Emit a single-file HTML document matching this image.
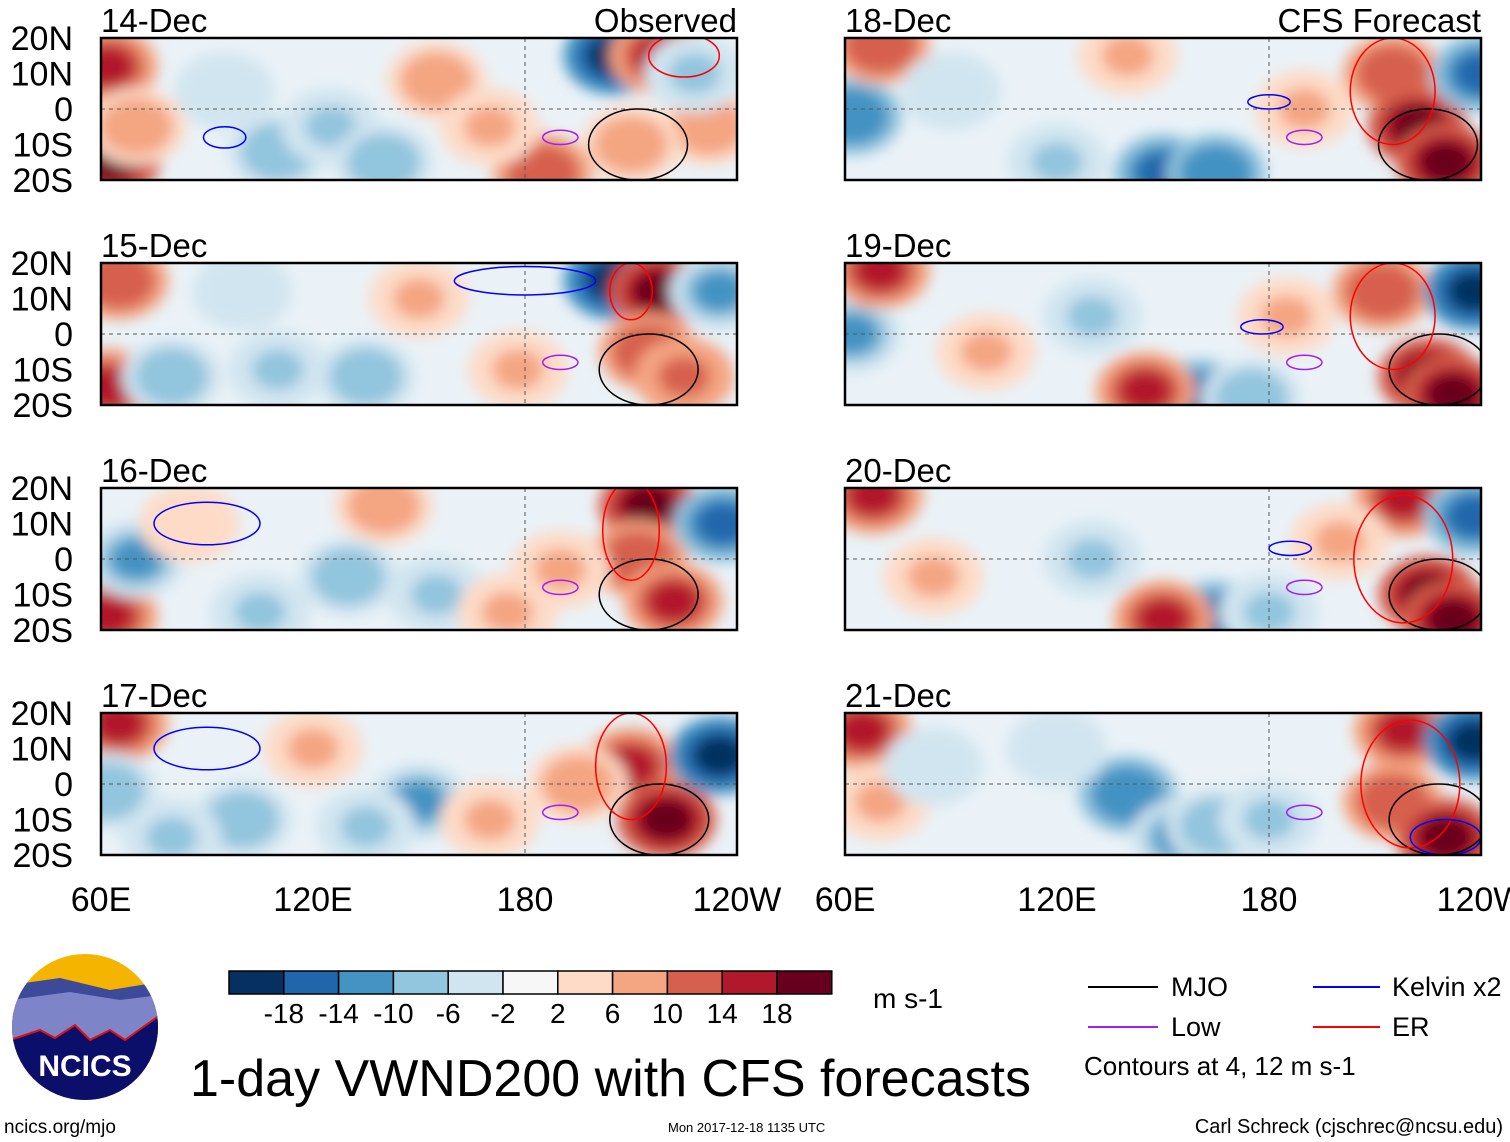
<!DOCTYPE html>
<html><head><meta charset="utf-8"><style>
body{margin:0;background:#fff;width:1510px;height:1142px;overflow:hidden;font-family:"Liberation Sans",sans-serif}
svg{position:absolute;left:0;top:0}
</style></head><body>
<svg id="s" width="1510" height="1142" xmlns="http://www.w3.org/2000/svg">
<defs>
<filter id="blur" x="-50%" y="-50%" width="200%" height="200%"><feGaussianBlur stdDeviation="7"/></filter>
<clipPath id="lc"><circle cx="85" cy="1027" r="73"/></clipPath>
</defs>
<g id="logo" clip-path="url(#lc)">
<rect x="10" y="950" width="150" height="160" fill="#f4b400"/>
<path d="M10 985 L60 978 L110 990 L160 982 L160 1110 L10 1110Z" fill="#3d4a9a"/>
<path d="M10 1000 L70 992 L120 1000 L160 995 L160 1110 L10 1110Z" fill="#7d85c8"/>
<path d="M10 1040 L40 1030 L55 1038 L75 1025 L90 1040 L110 1030 L125 1040 L160 1015 L160 1110 L10 1110Z" fill="#0b0f6a" stroke="#d11" stroke-width="2"/>
</g>
<text x="85" y="1076" font-size="30" font-weight="bold" fill="#fff" text-anchor="middle">NCICS</text>
<text x="4" y="1133" font-size="19">ncics.org/mjo</text>
<text x="190" y="1096" font-size="52">1-day VWND200 with CFS forecasts</text>
<text x="668" y="1132" font-size="13">Mon 2017-12-18 1135 UTC</text>
<text x="1503" y="1133" font-size="20" text-anchor="end">Carl Schreck (cjschrec@ncsu.edu)</text>
<text x="873" y="1008" font-size="28">m s-1</text>
<g font-size="27">
<line x1="1088" y1="987" x2="1158" y2="987" stroke="#000" stroke-width="2"/><text x="1171" y="996">MJO</text>
<line x1="1313" y1="987" x2="1380" y2="987" stroke="#00f" stroke-width="2"/><text x="1392" y="996">Kelvin x2</text>
<line x1="1088" y1="1027" x2="1158" y2="1027" stroke="#a020f0" stroke-width="2"/><text x="1171" y="1036">Low</text>
<line x1="1313" y1="1027" x2="1380" y2="1027" stroke="#f00" stroke-width="2"/><text x="1392" y="1036">ER</text>
<text x="1084" y="1075" font-size="26">Contours at 4, 12 m s-1</text>
</g>
<g id="cbar"></g>
<g id="panels"></g>
</svg>
<script>
const levels=[-18,-14,-10,-6,-2,2,6,10,14,18];
const colors=["#053061","#2166ac","#4393c3","#92c5de","#d1e5f0","#f7f7f7","#fddbc7","#f4a582","#d6604d","#b2182b","#67001f"];
const xTicks=["60E","120E","180","120W"];
const yTicks=["20N","10N","0","10S","20S"];
const panelTitles=["14-Dec","15-Dec","16-Dec","17-Dec","18-Dec","19-Dec","20-Dec","21-Dec"];
// blobs: [lon, lat, value]
const blobs0=[[62,12,16],[63,-14,20],[70,-5,8],[205,15,-20],[218,15,16],[232,-5,8],[155,8,8],[210,-10,8],[185,-18,12],[110,-12,-8],[125,-5,-6],[140,-15,-8],[95,5,-4],[170,-5,6],[228,10,-6]];
const blobs1=[[62,-15,16],[65,15,12],[205,15,-20],[218,12,18],[215,-5,12],[225,-12,10],[80,-12,-8],[110,-10,-6],[135,-12,-8],[150,10,6],[178,-10,6],[235,12,-10],[100,12,-4]];
const blobs2=[[62,-16,16],[70,0,-10],[215,15,20],[212,0,12],[222,-12,14],[236,10,-14],[140,15,8],[130,-5,-8],[155,-10,-6],[105,-15,-6],[175,-15,6],[85,10,4],[190,-3,6]];
const blobs3=[[65,17,16],[62,-2,-8],[210,5,16],[220,-10,20],[235,8,-18],[195,0,8],[150,-5,-10],[135,-12,-6],[100,-10,-8],[80,-15,-6],[170,-10,6],[120,10,6]];
const blobs4=[[62,-2,-12],[70,18,12],[215,10,12],[222,-5,18],[230,-15,20],[240,10,-16],[150,-18,-14],[165,-18,-12],[120,-15,-6],[190,0,6],[140,15,6],[90,5,-4]];
const blobs5=[[62,0,-10],[70,18,14],[212,12,12],[225,-12,18],[232,-17,20],[238,12,-18],[160,-18,-16],[145,-16,16],[175,-18,-8],[185,5,6],[100,-5,6],[130,5,-6]];
const blobs6=[[68,18,14],[218,17,16],[225,-10,18],[232,-17,20],[238,12,-16],[165,-17,-16],[150,-17,14],[180,-15,-6],[85,-5,6],[130,0,-6],[200,5,6]];
const blobs7=[[65,15,16],[70,-5,6],[218,15,14],[215,-5,12],[230,-15,18],[238,12,-18],[140,-3,-12],[155,-15,-10],[165,-12,-8],[180,-10,-6],[85,5,-4],[120,10,-4]];
const allBlobs=[blobs0,blobs1,blobs2,blobs3,blobs4,blobs5,blobs6,blobs7];
// contours: [lon, lat, rLon, rLat, type]
const contours=[[[212,-10,14,10,"mjo"],[190,-8,5,2,"low"],[95,-8,6,3,"kelvin"],[225,15,10,6,"er"]],
[[215,-10,14,10,"mjo"],[190,-8,5,2,"low"],[210,12,6,8,"er"],[180,15,20,4,"kelvin"]],
[[215,-10,14,10,"mjo"],[190,-8,5,2,"low"],[210,8,8,14,"er"],[90,10,15,6,"kelvin"]],
[[218,-10,14,10,"mjo"],[190,-8,5,2,"low"],[210,5,10,15,"er"],[90,10,15,6,"kelvin"]],
[[225,-10,14,10,"mjo"],[190,-8,5,2,"low"],[215,5,12,15,"er"],[180,2,6,2,"kelvin"]],
[[228,-10,14,10,"mjo"],[190,-8,5,2,"low"],[215,5,12,15,"er"],[178,2,6,2,"kelvin"]],
[[228,-10,14,10,"mjo"],[190,-8,5,2,"low"],[218,0,14,18,"er"],[186,3,6,2,"kelvin"]],
[[228,-10,14,10,"mjo"],[190,-8,5,2,"low"],[220,0,14,18,"er"],[230,-15,10,5,"kelvin"]]];
const ccol={mjo:"#000",low:"#a020f0",kelvin:"#00f",er:"#f00"};
const NS="http://www.w3.org/2000/svg";
function mk(t,a,p){const e=document.createElementNS(NS,t);for(const k in a)e.setAttribute(k,a[k]);p.appendChild(e);return e;}
function colorOf(v){let i=0;while(i<levels.length&&v>=levels[i])i++;return colors[i];}
const cb=document.getElementById('cbar');
colors.forEach((c,i)=>{const r=mk('rect',{x:229+i*54.8,y:971,width:54.8,height:23,fill:c,stroke:'#000','stroke-width':1.5},cb);

});
levels.forEach((l,i)=>{const t=mk('text',{x:229+(i+1)*54.8,y:1023,'font-size':28,'text-anchor':'middle'},cb);t.textContent=l;

});
const P=document.getElementById('panels');
const lefts=[101,845],tops=[38,263,488,713],W=636,H=142;
allBlobs.forEach((bl,pi)=>{
 const x0=lefts[Math.floor(pi/4)],y0=tops[pi%4];
 const g=mk('g',{},P);
 
 
 const X=lon=>x0+(lon-60)/180*W, Y=lat=>y0+(20-lat)/40*H;
 const cid='c'+pi;
 const cp=mk('clipPath',{id:cid},g);mk('rect',{x:x0,y:y0,width:W,height:H},cp);
 const inner=mk('g',{'clip-path':`url(#${cid})`},g);
 mk('rect',{x:x0,y:y0,width:W,height:H,fill:'#eaf2f7'},inner);
 const bg=mk('g',{filter:'url(#blur)'},inner);
 bl.forEach(b=>{const v=b[2];
  [[1,0.6],[0.7,0.85],[0.45,1.05]].forEach(([s,f])=>{const vv=v*f;
   const e=mk('ellipse',{cx:X(b[0]),cy:Y(b[1]),rx:44*s+6,ry:34*s+5,fill:colorOf(Math.abs(vv)<2?0:vv)},bg);
   
   });});
 mk('line',{x1:x0,y1:Y(0),x2:x0+W,y2:Y(0),stroke:'#555','stroke-dasharray':'4 4','stroke-width':1},inner);
 mk('line',{x1:X(180),y1:y0,x2:X(180),y2:y0+H,stroke:'#555','stroke-dasharray':'4 4','stroke-width':1},inner);
 contours[pi].forEach(c=>{const e=mk('ellipse',{cx:X(c[0]),cy:Y(c[1]),rx:c[2]/180*W,ry:c[3]/40*H,fill:'none',stroke:ccol[c[4]],'stroke-width':1.5},inner);
  
  });
 mk('rect',{x:x0,y:y0,width:W,height:H,fill:'none',stroke:'#000','stroke-width':2.5},g);
 const t=mk('text',{x:x0,y:y0-6,'font-size':33},g);t.textContent=panelTitles[pi];
 
 
 if(pi===0||pi===4){const s=mk('text',{x:x0+W,y:y0-6,'font-size':33,'text-anchor':'end'},g);s.textContent=pi===0?"Observed":"CFS Forecast";
  
  }
 if(pi<4) yTicks.forEach((l,i)=>{const tt=mk('text',{x:73,y:y0+i*H/4+12,'font-size':34,'text-anchor':'end'},g);tt.textContent=l;
  
  });
 if(pi%4===3) xTicks.forEach((l,i)=>{const tt=mk('text',{x:x0+i*W/3,y:911,'font-size':34,'text-anchor':'middle'},g);tt.textContent=l;
  
  });
});
</script>
</body></html>
